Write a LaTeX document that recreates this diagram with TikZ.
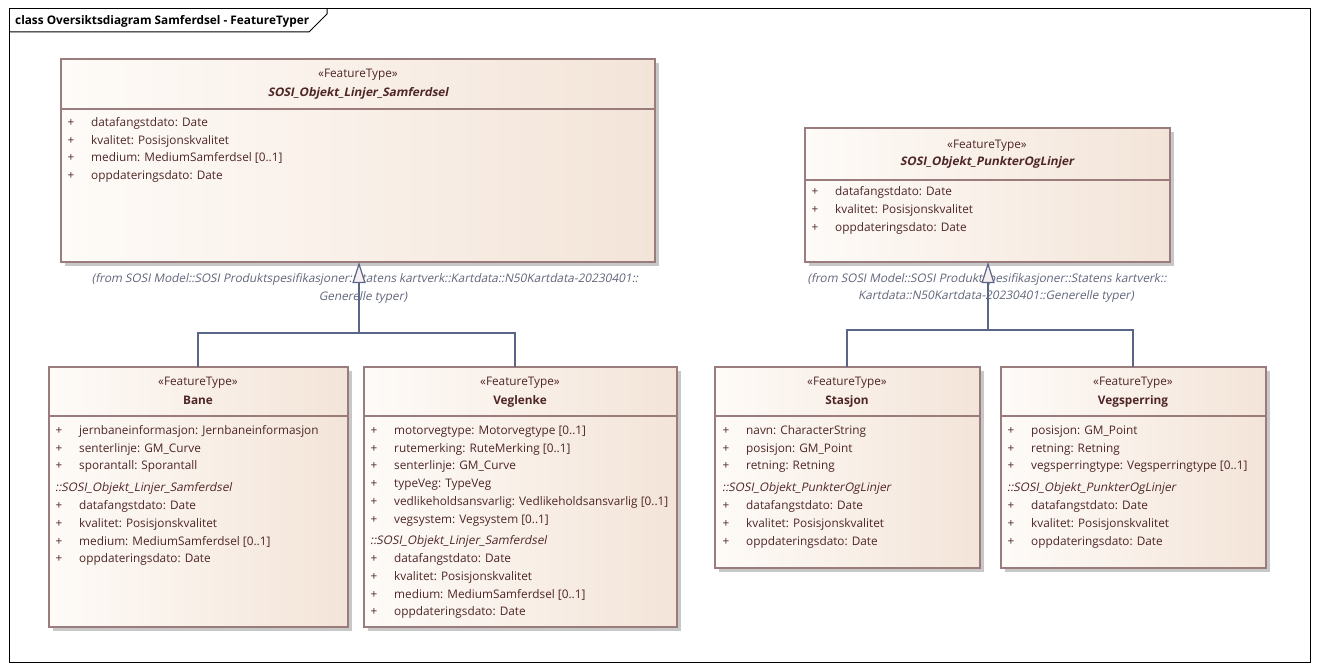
\documentclass[tikz,border=0pt]{standalone}
\usepackage{fontspec}
\setmainfont{Open Sans}
\newfontfamily\slfont[FakeSlant=0.2]{Open Sans}
\usetikzlibrary{arrows.meta}
\definecolor{boxline}{HTML}{9A7C7C}
\definecolor{fillL}{HTML}{FEFBF8}
\definecolor{fillR}{HTML}{F3E4D8}
\definecolor{txt}{HTML}{4E2626}
\definecolor{notec}{HTML}{62667C}
\definecolor{conn}{HTML}{5A6688}
\definecolor{shad}{HTML}{C8C8C8}
\definecolor{tri}{HTML}{F8F0F0}
\newcommand\ff{\fontsize{11.8}{14}\selectfont}
\newcommand\umlbox[6]{%
  \fill[shad] (#2+4,#3+4) rectangle (#4+4,#5+4);
  \node[classbox, minimum width={#4-#2}, minimum height={#5-#3}, anchor=north west] (#1) at (#2,#3) {};
  \draw[boxl] (#2,#6) -- (#4,#6);
}
\newcommand\attr[4]{% name, plus x, y, text
  \node[ftxt, anchor=base] (#1p) at (#2,#3+4) {+};
  \node[ftxt] (#1) at (#2+20,#3+4) {#4};
}
\newcommand\inh[4]{% name, x, y, text
  \node[ftxt, font=\slfont\ff] (#1) at (#2,#3+4) {#4};
}
\newcommand\header[5]{% name, cx, y stereo, y name, name text
  \node[ftxt, anchor=base] (#1s) at (#2,#3+4) {«FeatureType»};
  \node[ftxt, anchor=base, font=\ff\bfseries] (#1n) at (#2,#4+4) {#5};
}
\begin{document}
\begin{tikzpicture}[x=1pt,y=-1pt,
  frame/.style={draw=black, line width=1pt},
  classbox/.style={draw=boxline, line width=1.3pt, left color=fillL, right color=fillR, outer sep=0pt, inner sep=0pt},
  boxl/.style={draw=boxline, line width=1.2pt},
  ftxt/.style={font=\ff, text=txt, inner sep=0pt, anchor=base west},
  notetxt/.style={font=\slfont\ff, text=notec, inner sep=0pt, anchor=base},
  conn/.style={draw=conn, line width=1.3pt},
  gen/.style={conn, -{Triangle[open, length=21pt, width=13pt, fill=tri, line width=1.2pt]}}
]
\useasboundingbox (0,0) rectangle (1320,671);
\fill[white] (0,0) rectangle (1320,671);
% frame
\draw[frame] (9,9) rectangle (1310,662);
\draw[frame] (9,32) -- (309,32) -- (327,14) -- (327,9);
\node[ftxt, text=black, font=\ff\bfseries] (title) at (15,25) {class Oversiktsdiagram Samferdsel - FeatureTyper};

% ---------- SOSI_Objekt_Linjer_Samferdsel
\umlbox{linj}{61}{59}{655}{262}{109}
\header{linjh}{358}{74}{93}{\slfont SOSI\_Objekt\_Linjer\_Samferdsel}
\attr{la1}{71}{123}{datafangstdato: Date}
\attr{la2}{71}{141}{kvalitet: Posisjonskvalitet}
\attr{la3}{71}{158}{medium: MediumSamferdsel [0..1]}
\attr{la4}{71}{176}{oppdateringsdato: Date}
\node[notetxt] (linjnote1) at (365,283) {(from SOSI Model::SOSI Produktspesifikasjoner::Statens kartverk::Kartdata::N50Kartdata-20230401::};
\node[notetxt] (linjnote2) at (363,300) {Generelle typer)};

% ---------- SOSI_Objekt_PunkterOgLinjer
\umlbox{punk}{805}{128}{1170}{262}{180}
\header{punkh}{987}{145}{162}{\slfont SOSI\_Objekt\_PunkterOgLinjer}
\attr{pa1}{815}{192}{datafangstdato: Date}
\attr{pa2}{815}{210}{kvalitet: Posisjonskvalitet}
\attr{pa3}{815}{228}{oppdateringsdato: Date}
\node[notetxt] (punknote1) at (987,282) {(from SOSI Model::SOSI Produktspesifikasjoner::Statens kartverk::};
\node[notetxt] (punknote2) at (996,299) {Kartdata::N50Kartdata-20230401::Generelle typer)};

% ---------- Bane
\umlbox{bane}{49}{367}{348}{627}{416}
\header{baneh}{198}{381}{400}{Bane}
\attr{ba1}{59}{430}{jernbaneinformasjon: Jernbaneinformasjon}
\attr{ba2}{59}{448}{senterlinje: GM\_Curve}
\attr{ba3}{59}{465}{sporantall: Sporantall}
\inh{bai}{55}{487}{::SOSI\_Objekt\_Linjer\_Samferdsel}
\attr{ba4}{59}{505}{datafangstdato: Date}
\attr{ba5}{59}{523}{kvalitet: Posisjonskvalitet}
\attr{ba6}{59}{541}{medium: MediumSamferdsel [0..1]}
\attr{ba7}{59}{558}{oppdateringsdato: Date}

% ---------- Veglenke
\umlbox{vegl}{364}{367}{677}{627}{416}
\header{veglh}{520}{381}{400}{Veglenke}
\attr{va1}{374}{430}{motorvegtype: Motorvegtype [0..1]}
\attr{va2}{374}{448}{rutemerking: RuteMerking [0..1]}
\attr{va3}{374}{465}{senterlinje: GM\_Curve}
\attr{va4}{374}{483}{typeVeg: TypeVeg}
\attr{va5}{374}{501}{vedlikeholdsansvarlig: Vedlikeholdsansvarlig [0..1]}
\attr{va6}{374}{519}{vegsystem: Vegsystem [0..1]}
\inh{vai}{370}{540}{::SOSI\_Objekt\_Linjer\_Samferdsel}
\attr{va7}{374}{558}{datafangstdato: Date}
\attr{va8}{374}{576}{kvalitet: Posisjonskvalitet}
\attr{va9}{374}{594}{medium: MediumSamferdsel [0..1]}
\attr{va10}{374}{611}{oppdateringsdato: Date}

% ---------- Stasjon
\umlbox{stas}{715}{367}{980}{568}{416}
\header{stash}{847}{381}{400}{Stasjon}
\attr{sa1}{726}{430}{navn: CharacterString}
\attr{sa2}{726}{448}{posisjon: GM\_Point}
\attr{sa3}{726}{465}{retning: Retning}
\inh{sai}{722}{487}{::SOSI\_Objekt\_PunkterOgLinjer}
\attr{sa4}{726}{505}{datafangstdato: Date}
\attr{sa5}{726}{523}{kvalitet: Posisjonskvalitet}
\attr{sa6}{726}{541}{oppdateringsdato: Date}

% ---------- Vegsperring
\umlbox{vsp}{1001}{367}{1266}{568}{416}
\header{vsph}{1133}{381}{400}{Vegsperring}
\attr{vs1}{1011}{430}{posisjon: GM\_Point}
\attr{vs2}{1011}{448}{retning: Retning}
\attr{vs3}{1011}{465}{vegsperringtype: Vegsperringtype [0..1]}
\inh{vsi}{1007}{487}{::SOSI\_Objekt\_PunkterOgLinjer}
\attr{vs4}{1011}{505}{datafangstdato: Date}
\attr{vs5}{1011}{523}{kvalitet: Posisjonskvalitet}
\attr{vs6}{1011}{541}{oppdateringsdato: Date}

% ---------- connectors
\coordinate (j1) at (359,333);
\coordinate (baneTop) at (198,367);
\coordinate (veglTop) at (515,367);
\coordinate (j2) at (988,330);
\coordinate (stasTop) at (847,367);
\coordinate (vspTop) at (1133,367);
\draw[conn] (baneTop) |- (j1);
\draw[conn] (veglTop) |- (j1);
\draw[gen] (j1) -- (linj.south -| j1);
\draw[conn] (stasTop) |- (j2);
\draw[conn] (vspTop) |- (j2);
\draw[gen] (j2) -- (punk.south -| j2);
\end{tikzpicture}
\end{document}
